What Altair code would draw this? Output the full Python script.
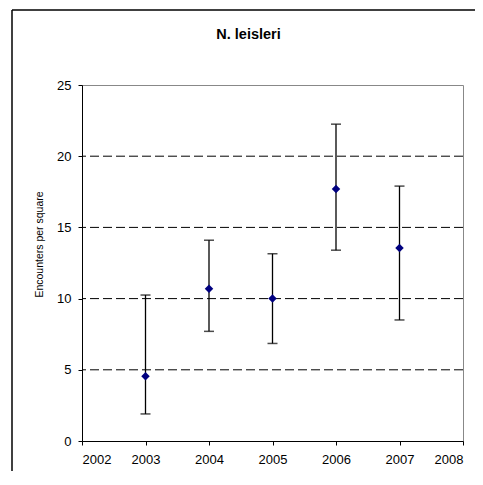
import altair as alt
import pandas as pd

# Data
years = [2003, 2004, 2005, 2006, 2007]
means = [4.55, 10.7, 10.0, 17.7, 13.55]
lower = [1.9, 7.7, 6.85, 13.4, 8.5]
upper = [10.25, 14.1, 13.15, 22.25, 17.9]

x_ticks = [2002, 2003, 2004, 2005, 2006, 2007, 2008]
y_ticks = [0, 5, 10, 15, 20, 25]
grid_values = [5, 10, 15, 20]

FONT = "Liberation Sans, Arial, sans-serif"

df = pd.DataFrame({"year": years, "mean": means, "lower": lower, "upper": upper})
grid_df = pd.DataFrame({"g": grid_values})
one = pd.DataFrame({"a": [0]})

x_enc = alt.X(
    "year:Q",
    scale=alt.Scale(domain=[2002, 2008], nice=False, zero=False),
    axis=alt.Axis(values=x_ticks, format="d", title=None, labelPadding=8, grid=False),
)
y_scale = alt.Scale(domain=[0, 25], nice=False)
y_axis = alt.Axis(
    values=y_ticks,
    grid=False,
    title="Encounters per square",
    titleAngle=270,
    titleAlign="center",
    titleBaseline="middle",
    titleX=-43,
    titleY=159,
    titleFontSize=10.5,
    titleFontWeight="normal",
    titleFont=FONT,
    titleColor="black",
    labelPadding=7,
)

grid = alt.Chart(grid_df).mark_rule(color="black", strokeWidth=1, strokeDash=[9, 4]).encode(
    y=alt.Y("g:Q", scale=y_scale, axis=y_axis)
)

bars = alt.Chart(df).mark_rule(color="black", strokeWidth=1.3).encode(
    x=x_enc,
    y=alt.Y("lower:Q", scale=y_scale, axis=y_axis),
    y2="upper:Q",
)

cap_lo = alt.Chart(df).mark_tick(color="black", orient="horizontal", size=10, thickness=1.5).encode(
    x=x_enc, y=alt.Y("lower:Q", scale=y_scale, axis=y_axis)
)
cap_hi = alt.Chart(df).mark_tick(color="black", orient="horizontal", size=10, thickness=1.5).encode(
    x=x_enc, y=alt.Y("upper:Q", scale=y_scale, axis=y_axis)
)

points = alt.Chart(df).mark_point(shape="diamond", filled=True, size=72, color="#000080", opacity=1).encode(
    x=x_enc, y=alt.Y("mean:Q", scale=y_scale, axis=y_axis)
)

# outer chart-area frame (decoration)
frame_left = alt.Chart(one).mark_rule(color="black", strokeWidth=1.5).encode(
    x=alt.value(-70), y=alt.value(-75), y2=alt.value(420)
)
frame_top = alt.Chart(one).mark_rule(color="black", strokeWidth=1.5).encode(
    x=alt.value(-70), x2=alt.value(420), y=alt.value(-75)
)

chart = (
    alt.layer(grid, bars, cap_lo, cap_hi, points, frame_left, frame_top)
    .properties(
        width=381,
        height=356,
        background="white",
        autosize=alt.AutoSizeParams(type="none"),
        padding={"left": 74, "top": 77, "right": 12, "bottom": 30},
        title=alt.TitleParams(
            text="N. leisleri",
            anchor="middle",
            frame="group",
            dx=-24,
            dy=44,
            offset=0,
            baseline="alphabetic",
            font=FONT,
            fontSize=14.5,
            fontWeight="bold",
            color="black",
        ),
    )
    .configure_view(stroke="#888888", strokeWidth=1)
    .configure_axis(
        grid=False,
        domainColor="black",
        domainWidth=1,
        tickColor="black",
        tickSize=4,
        labelColor="black",
        labelFont=FONT,
        labelFontSize=13,
    )
)

chart.save("out.html", embed_options={"renderer": "svg", "actions": False})
